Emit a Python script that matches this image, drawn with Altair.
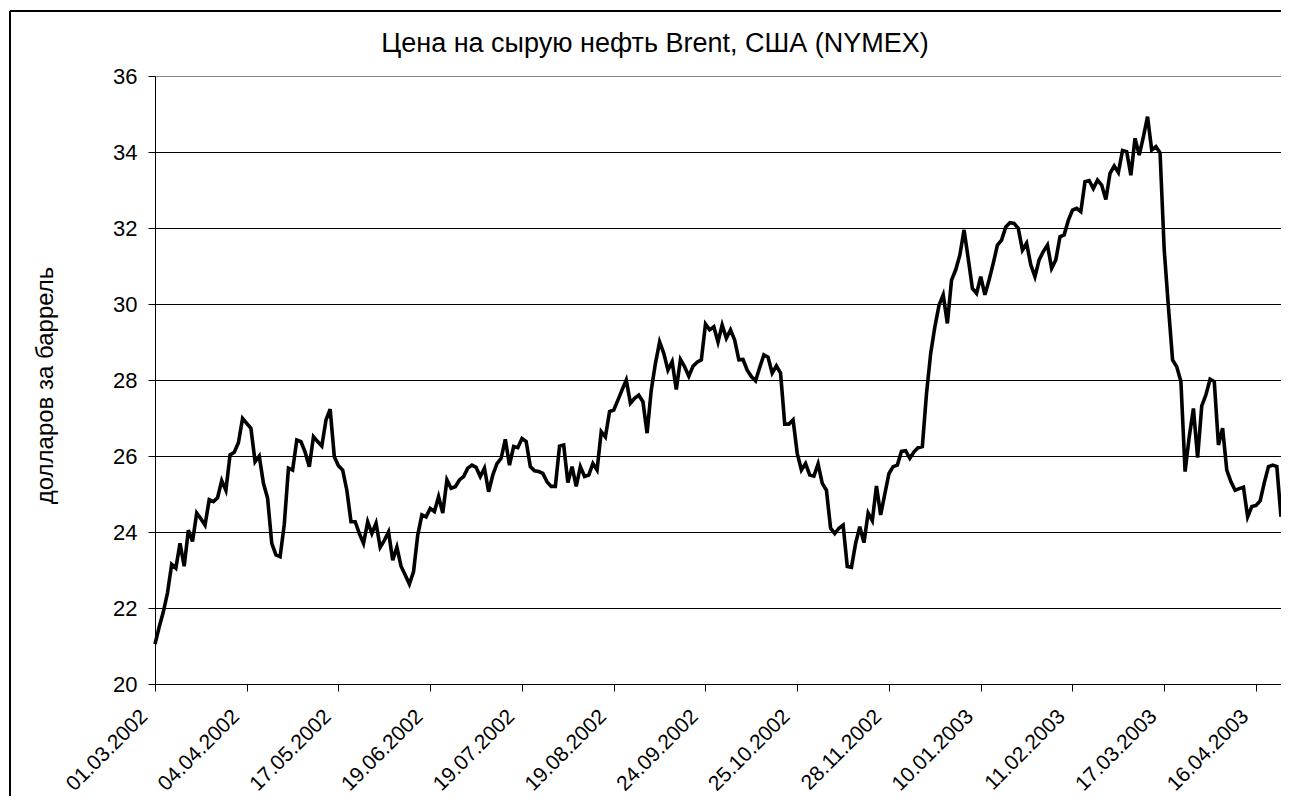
import json
import altair as alt
import pandas as pd

# Brent crude oil price, USD per barrel (one value per trading point)
prices = [
    21.05, 21.5, 21.9, 22.4, 23.15, 23.05, 23.7, 23.1, 24.05, 23.75,
    24.5, 24.35, 24.18, 24.85, 24.8, 24.9, 25.35, 25.1, 26.03, 26.1,
    26.35, 26.99, 26.86, 26.73, 25.85, 26.0, 25.28, 24.89, 23.7, 23.4,
    23.35, 24.2, 25.68, 25.63, 26.42, 26.38, 26.1, 25.72, 26.51, 26.38,
    26.26, 26.95, 27.23, 25.98, 25.74, 25.63, 25.1, 24.27, 24.27, 23.96,
    23.7, 24.27, 23.96, 24.23, 23.6, 23.78, 24.0, 23.26, 23.6, 23.1,
    22.87, 22.63, 22.96, 23.92, 24.45, 24.4, 24.62, 24.54, 24.93, 24.5,
    25.37, 25.15, 25.19, 25.37, 25.46, 25.68, 25.76, 25.7, 25.46, 25.68,
    25.06, 25.5, 25.8, 25.94, 26.44, 25.76, 26.25, 26.22, 26.46, 26.38,
    25.72, 25.61, 25.59, 25.54, 25.32, 25.2, 25.2, 26.26, 26.29, 25.3,
    25.72, 25.2, 25.72, 25.46, 25.5, 25.8, 25.63, 26.64, 26.5, 27.17,
    27.21, 27.47, 27.74, 28.0, 27.39, 27.52, 27.6, 27.43, 26.6, 27.74,
    28.44, 29.0, 28.7, 28.26, 28.48, 27.75, 28.54, 28.35, 28.1, 28.36,
    28.47, 28.53, 29.47, 29.32, 29.4, 29.0, 29.45, 29.1, 29.32, 29.05,
    28.53, 28.54, 28.26, 28.09, 27.98, 28.33, 28.66, 28.6, 28.18, 28.37,
    28.18, 26.84, 26.84, 26.95, 26.07, 25.63, 25.8, 25.5, 25.47, 25.79,
    25.28, 25.1, 24.1, 23.96, 24.1, 24.18, 23.09, 23.07, 23.7, 24.14,
    23.72, 24.5, 24.3, 25.21, 24.45, 25.0, 25.54, 25.72, 25.76, 26.12,
    26.14, 25.94, 26.11, 26.22, 26.25, 27.65, 28.7, 29.4, 29.97, 30.24,
    29.49, 30.63, 30.9, 31.29, 31.95, 31.2, 30.41, 30.28, 30.72, 30.24,
    30.63, 31.07, 31.55, 31.68, 32.03, 32.14, 32.12, 31.99, 31.42, 31.6,
    31.03, 30.72, 31.16, 31.38, 31.55, 30.94, 31.16, 31.77, 31.82, 32.2,
    32.47, 32.52, 32.43, 33.22, 33.25, 33.04, 33.26, 33.13, 32.75, 33.44,
    33.63, 33.46, 34.04, 34.01, 33.39, 34.36, 33.92, 34.4, 34.93, 34.05,
    34.14, 33.98, 31.42, 29.93, 28.53, 28.35, 27.96, 25.59, 26.51, 27.25,
    25.96, 27.32, 27.61, 28.02, 27.96, 26.29, 26.73, 25.63, 25.32, 25.1,
    25.14, 25.18, 24.4, 24.67, 24.7, 24.82, 25.3, 25.72, 25.76, 25.72,
    24.4,
]

# Category labels shown on the x axis (one every 22 points)
tick_labels = [
    "01.03.2002", "04.04.2002", "17.05.2002", "19.06.2002", "19.07.2002",
    "19.08.2002", "24.09.2002", "25.10.2002", "28.11.2002", "10.01.2003",
    "11.02.2003", "17.03.2003", "16.04.2003",
]
label_step = 22
y_ticks = [20, 22, 24, 26, 28, 30, 32, 34, 36]
chart_title = ["Цена на сырую нефть Brent, США (NYMEX)"]
y_title = "долларов за баррель"

df = pd.DataFrame({"i": list(range(len(prices))), "price": prices})
title_df = pd.DataFrame({"t": chart_title})

W, H = 1126, 608
FONT = "Liberation Sans"

label_expr = f"{json.dumps(tick_labels)}[round(datum.value / {label_step})]"

line = alt.Chart(df).mark_line(color="black", strokeWidth=3.6).encode(
    x=alt.X(
        "i:Q",
        scale=alt.Scale(domain=[0, len(prices) - 1], nice=False, zero=False),
        axis=alt.Axis(
            values=[k * label_step for k in range(len(tick_labels))],
            labelExpr=label_expr,
            labelAngle=-45,
            labelAlign="right",
            labelBaseline="middle",
            labelPadding=22,
            labelOffset=-11,
            labelFont=FONT,
            labelFontSize=21,
            labelColor="black",
            labelOverlap=False,
            tickSize=7,
            tickColor="black",
            domainColor="black",
            grid=False,
            title=None,
        ),
    ),
    y=alt.Y(
        "price:Q",
        scale=alt.Scale(domain=[20, 36], nice=False, zero=False),
        axis=alt.Axis(
            values=y_ticks,
            labelFont=FONT,
            labelFontSize=22,
            labelColor="black",
            labelPadding=11,
            tickSize=7,
            tickColor="black",
            domainColor="black",
            grid=True,
            gridColor={"condition": {"test": "datum.value === 36", "value": "#888888"}, "value": "black"},
            gridOpacity=1,
            title=y_title,
            titleFont=FONT,
            titleFontSize=24,
            titleFontWeight="normal",
            titleColor="black",
            titleAngle=270,
            titleX=-110,
            titleY=309,
            titleAlign="center",
            titleBaseline="middle",
        ),
    ),
)

title_mark = alt.Chart(title_df).mark_text(
    font=FONT, fontSize=27, color="black", align="center", baseline="alphabetic"
).encode(text="t:N", x=alt.value(500), y=alt.value(-24))

frame_left = alt.Chart(title_df).mark_rule(color="black", strokeWidth=2).encode(
    x=alt.value(-145), y=alt.value(-65), y2=alt.value(H + 130)
)
frame_top = alt.Chart(title_df).mark_rule(color="black", strokeWidth=2).encode(
    x=alt.value(-145), x2=alt.value(W + 10), y=alt.value(-65)
)

chart = (
    alt.layer(line, title_mark, frame_left, frame_top)
    .properties(
        width=W,
        height=H,
        autosize=alt.AutoSizeParams(type="none"),
        padding={"left": 147, "top": 68, "right": 0, "bottom": 112},
    )
    .configure_view(strokeWidth=0)
    .configure(background="white")
)

chart.save("out.html", embed_options={"renderer": "svg", "actions": False})
